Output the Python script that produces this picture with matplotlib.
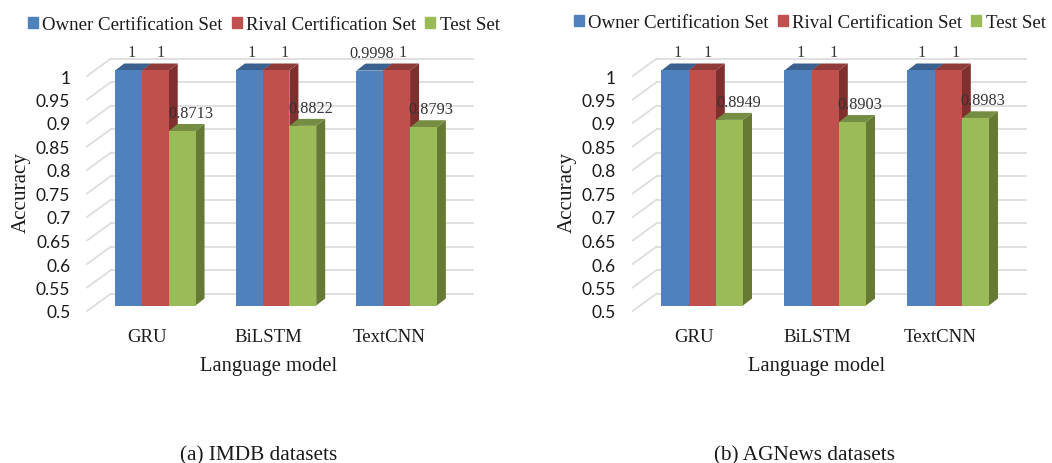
"""Grouped pseudo-3D bars of accuracy per language model, IMDB and AGNews."""
import matplotlib
matplotlib.use("Agg")
import matplotlib.pyplot as plt
from matplotlib.patches import Patch

models = ["GRU", "BiLSTM", "TextCNN"]
series_names = ["Owner Certification Set", "Rival Certification Set", "Test Set"]
y_ticks = [0.5, 0.55, 0.6, 0.65, 0.7, 0.75, 0.8, 0.85, 0.9, 0.95, 1]
y_tick_labels = ["0.5", "0.55", "0.6", "0.65", "0.7", "0.75", "0.8", "0.85", "0.9", "0.95", "1"]

imdb_owner = [1, 1, 0.9998]
imdb_rival = [1, 1, 1]
imdb_test = [0.8713, 0.8822, 0.8793]

agnews_owner = [1, 1, 1]
agnews_rival = [1, 1, 1]
agnews_test = [0.8949, 0.8903, 0.8983]

front_colors = ["#4F81BD", "#C0504D", "#9BBB59"]
top_colors = ["#3B6190", "#8F3B39", "#758D43"]
side_colors = ["#3A5F8C", "#7F2F2D", "#667A35"]
grid_color = "#DDDDDD"
text_color = "#1A1A1A"
serif = "Liberation Serif"

W, H = 1052, 464
fig = plt.figure(figsize=(W / 100, H / 100), dpi=100)


def make_axes(left, right, top, bottom):
    return fig.add_axes([left / W, 1 - bottom / H, (right - left) / W, (bottom - top) / H])


def draw_panel(ax, values, bar_px, wall_right_px, red_shift, green_shift, owner_shift):
    ax_w = ax.get_position().width * W
    ax_h = ax.get_position().height * H
    px_x = 3 / ax_w
    px_y = 0.5 / ax_h
    ax.set_xlim(-0.5, 2.5)
    ax.set_ylim(0.5, 1)

    # floor and back wall grid
    wall_dx, wall_dy = 24 * px_x, 17.5 * px_y
    for tick in y_ticks:
        ax.plot([-0.5, -0.5 + wall_dx], [tick, tick + wall_dy], color=grid_color, lw=1.3,
                clip_on=False, zorder=1)
        ax.plot([-0.5 + wall_dx, -0.5 + wall_right_px * px_x], [tick + wall_dy] * 2,
                color=grid_color, lw=1.3, clip_on=False, zorder=1)

    # bars
    bar_w = bar_px * px_x
    shift_x, lift = 8 * px_x, 5.5 * px_y
    depth_x, depth_y = 9 * px_x, 7 * px_y
    for s, vals in enumerate(values):
        for i, v in enumerate(vals):
            x0 = i + shift_x + (s - 1.5) * bar_w
            x1 = x0 + bar_w
            base, top = 0.5 + lift, v + lift
            z = 3 + s
            ax.fill([x1, x1 + depth_x, x1 + depth_x, x1],
                    [base, base + depth_y, top + depth_y, top],
                    color=side_colors[s], lw=0, clip_on=False, zorder=z)
            ax.fill([x0, x1, x1 + depth_x, x0 + depth_x],
                    [top, top, top + depth_y, top + depth_y],
                    color=top_colors[s], lw=0, clip_on=False, zorder=z)
            ax.bar(x0, v - 0.5, width=bar_w, bottom=base, align="edge",
                   color=front_colors[s], lw=0, clip_on=False, zorder=z)
            shifts = [owner_shift, red_shift, green_shift][s]
            ax.annotate(str(v), (x0 + bar_w / 2, top), xytext=(shifts[i] * 0.72, 13),
                        textcoords="offset points", ha="center", va="center",
                        family=serif, fontsize=11.7, color="#333333", zorder=10,
                        annotation_clip=False)

    ax.set_xticks(range(3), models, family=serif, fontsize=13.5, color=text_color)
    ax.set_yticks(y_ticks, y_tick_labels, family="Lato", fontsize=12.5, color=text_color)
    ax.tick_params(axis="both", length=0)
    ax.tick_params(axis="x", pad=12)
    ax.tick_params(axis="y", pad=12)
    for spine in ax.spines.values():
        spine.set_visible(False)
    ax.patch.set_visible(False)


handles = [Patch(color=c) for c in front_colors]


def add_legend(x_px, y_px, size):
    fig.legend(handles, series_names, loc="center left", ncol=3, frameon=False,
               bbox_to_anchor=(x_px / W, 1 - y_px / H), borderaxespad=0, borderpad=0,
               prop={"family": serif, "size": size}, labelcolor=text_color,
               handlelength=0.52, handleheight=0.52, handletextpad=0.24, columnspacing=0.48)


ax_a = make_axes(87, 449, 77, 312)
draw_panel(ax_a, [imdb_owner, imdb_rival, imdb_test], 26.8, 386,
           [5, 8.5, 6.5], [8.5, 7.5, 7.5], [3, 2.5, 1.5])
ax_b = make_axes(632.7, 1001.7, 77, 312)
draw_panel(ax_b, [agnews_owner, agnews_rival, agnews_test], 27.2, 393,
           [5.5, 8, 7], [9, 7, 7], [2.5, 2.5, 1])

for ax, ylab_x, xlab_x, cap_x, cap in [
    (ax_a, 21, 269, 259, "(a) IMDB datasets"),
    (ax_b, 567, 817, 804, "(b) AGNews datasets"),
]:
    fig.text(ylab_x / W, 1 - 193 / H, "Accuracy", rotation=90, ha="center", va="center",
             family=serif, fontsize=15.2, color=text_color)
    fig.text(xlab_x / W, 1 - 367 / H, "Language model", ha="center", va="center",
             family=serif, fontsize=14.8, color=text_color)
    fig.text(cap_x / W, 1 - 455.5 / H, cap, ha="center", va="center",
             family=serif, fontsize=15.3, color=text_color)

add_legend(28, 25.5, 13.55)
add_legend(574, 23.5, 13.6)

fig.savefig("out.png", dpi=100)
